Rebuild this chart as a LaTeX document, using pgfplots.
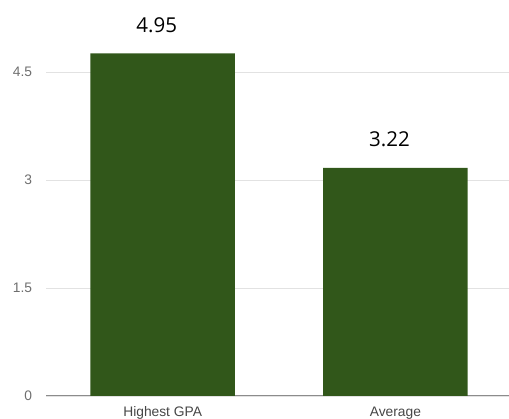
\documentclass[border=0pt]{standalone}
\usepackage{pgfplots}
\pgfplotsset{compat=1.18}
\usepackage{fontspec}
\setmainfont{Liberation Sans}
\newfontfamily\valfont{Open Sans}
\definecolor{bargreen}{RGB}{49,87,26}
\definecolor{gridgray}{RGB}{226,226,226}
\definecolor{basegray}{RGB}{140,140,140}
\definecolor{ticky}{RGB}{110,110,110}
\definecolor{tickx}{RGB}{70,70,70}
\begin{document}
\begin{tikzpicture}
\begin{axis}[
    name=ax,
    scale only axis,
    width=462.7pt,
    height=396pt,
    xmin=-0.5, xmax=1.488,
    ymin=0, ymax=5.5,
    axis x line*=bottom,
    axis y line*=left,
    x axis line style={draw=basegray,line width=1pt,-},
    y axis line style={draw=none},
    major tick length=0pt,
    xtick={0,1},
    xticklabels={Highest GPA,Average},
    ytick={0,1.5,3,4.5},
    yticklabels={0,1.5,3,4.5},
    ymajorgrids=true,
    major grid style={draw=gridgray,line width=0.9pt},
    /pgf/number format/assume math mode=true,
    x tick label style={font=\fontsize{13.8}{15}\selectfont,text=tickx,anchor=base,inner sep=0pt,yshift=-21pt},
    y tick label style={font=\fontsize{13.8}{15}\selectfont,text=ticky,anchor=east,inner sep=0pt,xshift=-14pt},
    ybar,
    bar width=144.5pt,
    point meta=explicit symbolic,
    nodes near coords,
    every node near coord/.append style={font=\valfont\fontsize{20.5}{24}\selectfont,anchor=base,inner sep=0pt,yshift=21pt,xshift=-6pt,text=black},
    clip=false,
]
\addplot[draw=none,fill=bargreen] coordinates {
    (0,4.76) [4.95]
    (1,3.17) [3.22]
};
\end{axis}
\pgfresetboundingbox
\path[use as bounding box] ([xshift=-46.3pt,yshift=-23pt]ax.south west) rectangle (ax.north east);
\end{tikzpicture}
\end{document}
